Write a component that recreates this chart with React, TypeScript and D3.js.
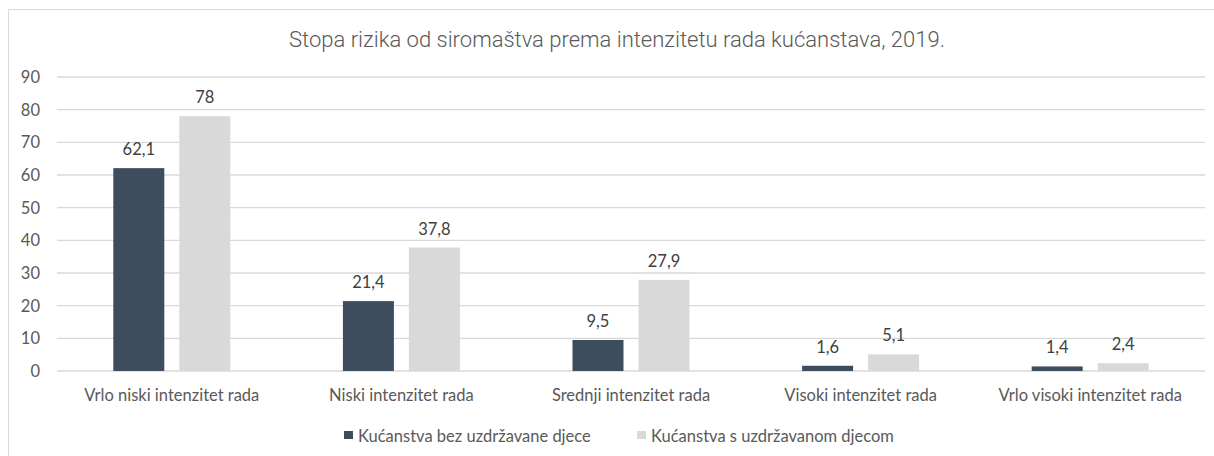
import React from 'react'
import * as d3 from 'd3'

const categories = [
  'Vrlo niski intenzitet rada',
  'Niski intenzitet rada',
  'Srednji intenzitet rada',
  'Visoki intenzitet rada',
  'Vrlo visoki intenzitet rada',
]
const seriesNames = ['Kućanstva bez uzdržavane djece', 'Kućanstva s uzdržavanom djecom']
const withoutChildren = [62.1, 21.4, 9.5, 1.6, 1.4]
const withChildren = [78, 37.8, 27.9, 5.1, 2.4]
const yTicks = [0, 10, 20, 30, 40, 50, 60, 70, 80, 90]
const colors = ['#3d4d5e', '#d9d9d9']

const W = 1214
const H = 456
const plot = { left: 57, right: 1205, top: 77, bottom: 371 }
const labelFont = 'Lato, "Open Sans", sans-serif'
const textColor = '#595959'

const fmt = (v: number) => String(v).replace('.', ',')

export default function App() {
  const x = d3.scaleBand<string>().domain(categories).range([plot.left, plot.right])
  const y = d3.scaleLinear().domain([0, 90]).range([plot.bottom, plot.top])
  const barW = 51
  const gap = 15
  const series = [withoutChildren, withChildren]

  return (
    <svg width={W} height={H} style={{ position: 'absolute', left: 0, top: 0 }}>
      <rect x={0} y={0} width={W} height={H} fill="#fff" />
      <rect x={8.5} y={9.5} width={W + 10} height={H + 10} fill="none" stroke="#d9d9d9" />
      <text
        x={617}
        y={47}
        textAnchor="middle"
        fontFamily="Roboto, sans-serif"
        fontWeight={300}
        fontSize={22}
        fill={textColor}
      >
        Stopa rizika od siromaštva prema intenzitetu rada kućanstava, 2019.
      </text>
      {yTicks.map((t) => (
        <g key={t}>
          <line x1={plot.left} x2={plot.right} y1={y(t)} y2={y(t)} stroke="#d9d9d9" strokeWidth={1.3} />
          <text
            x={40}
            y={y(t) + 6}
            textAnchor="end"
            fontFamily={labelFont}
            fontSize={16.5}
            fill={textColor}
          >
            {t}
          </text>
        </g>
      ))}
      {categories.map((c, i) => {
        const cx = (x(c) ?? 0) + x.bandwidth() / 2
        return (
          <g key={c}>
            {series.map((s, k) => {
              const bx = k === 0 ? cx - gap / 2 - barW : cx + gap / 2
              return (
                <g key={k}>
                  <rect x={bx} y={y(s[i])} width={barW} height={y(0) - y(s[i])} fill={colors[k]} />
                  <text
                    x={bx + barW / 2}
                    y={y(s[i]) - 13}
                    textAnchor="middle"
                    fontFamily={labelFont}
                    fontSize={16.5}
                    fill="#404040"
                  >
                    {fmt(s[i])}
                  </text>
                </g>
              )
            })}
            <text
              x={cx}
              y={401}
              textAnchor="middle"
              fontFamily={labelFont}
              fontSize={16.5}
              fill={textColor}
            >
              {c}
            </text>
          </g>
        )
      })}
      {seriesNames.map((n, k) => {
        const lx = k === 0 ? 344 : 637
        return (
          <g key={n}>
            <rect x={lx} y={431} width={9} height={8} fill={colors[k]} />
            <text x={lx + 14} y={441.5} fontFamily={labelFont} fontSize={16.5} fill={textColor}>
              {n}
            </text>
          </g>
        )
      })}
    </svg>
  )
}
